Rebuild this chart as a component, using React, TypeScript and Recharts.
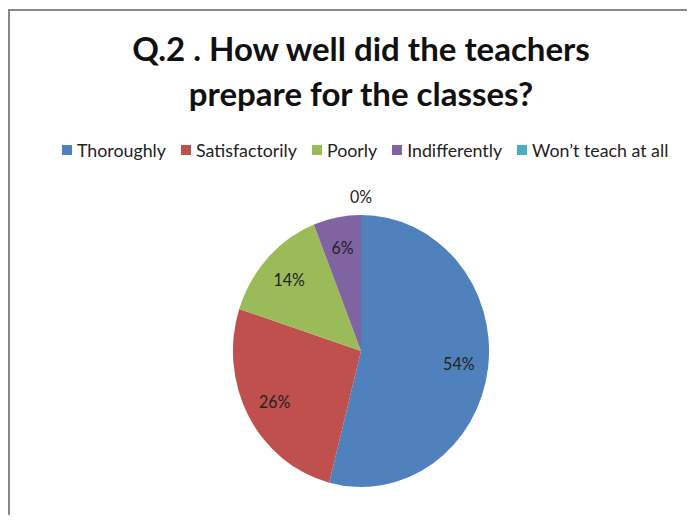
import React from "react";
import { PieChart, Pie, Cell } from "recharts";

const categories = ["Thoroughly", "Satisfactorily", "Poorly", "Indifferently", "Won\u2019t teach at all"];
const shares = [54, 26, 14, 6, 0];
const colors = ["#4F81BD", "#C0504D", "#9BBB59", "#8064A2", "#4BACC6"];

const data = categories.map((name, i) => ({ name, value: shares[i] }));

const RADIAN = Math.PI / 180;

const renderLabel = (props: any) => {
  const { cx, cy, midAngle, outerRadius, value } = props;
  // zero slices can't hold a label, so Excel pushes them outside
  const r = value === 0 ? outerRadius + 18 : outerRadius * 0.77;
  const x = cx + r * Math.cos(-midAngle * RADIAN);
  const y = cy + r * Math.sin(-midAngle * RADIAN);
  return (
    <text
      x={x}
      y={y}
      fill="#222"
      fontSize={16.5}
      fontFamily="Lato, sans-serif"
      textAnchor="middle"
      dominantBaseline="central"
    >
      {`${value}%`}
    </text>
  );
};

export default function App() {
  return (
    <div style={{ position: "relative", width: 695, height: 523, margin: -8, overflow: "hidden", background: "#fff" }}>
      <div
        style={{
          position: "absolute",
          left: 8,
          top: 9,
          width: 720,
          height: 540,
          border: "2px solid #878787",
          boxSizing: "border-box",
        }}
      />
      <div
        style={{
          position: "absolute",
          left: 0,
          top: 26,
          width: 722,
          textAlign: "center",
          fontFamily: "Lato, sans-serif",
          fontWeight: 700,
          fontSize: 33,
          lineHeight: "45px",
          color: "#111",
        }}
      >
        Q.2 . How well did the teachers
        <br />
        prepare for the classes?
      </div>
      <div
        style={{
          position: "absolute",
          left: 62,
          top: 139,
          display: "flex",
          alignItems: "center",
          whiteSpace: "nowrap",
          fontFamily: "Lato, sans-serif",
          fontSize: 17.8,
          color: "#222",
        }}
      >
        {categories.map((c, i) => (
          <span key={c} style={{ display: "flex", alignItems: "center", marginRight: 15 }}>
            <span style={{ width: 10, height: 10, background: colors[i], marginRight: 5 }} />
            {c}
          </span>
        ))}
      </div>
      {/* the source pie is slightly taller than wide */}
      <div
        style={{
          position: "absolute",
          left: 0,
          top: 0,
          transform: "scale(0.97, 1.03)",
          transformOrigin: "361px 351px",
        }}
      >
        <PieChart width={695} height={523} margin={{ top: 0, right: 0, bottom: 0, left: 0 }}>
          <Pie
            data={data}
            dataKey="value"
            nameKey="name"
            cx={361}
            cy={351}
            outerRadius={132}
            startAngle={90}
            endAngle={-270}
            stroke="none"
            labelLine={false}
            label={renderLabel}
            isAnimationActive={false}
          >
            {data.map((_, i) => (
              <Cell key={`c-${i}`} fill={colors[i]} />
            ))}
          </Pie>
        </PieChart>
      </div>
    </div>
  );
}
